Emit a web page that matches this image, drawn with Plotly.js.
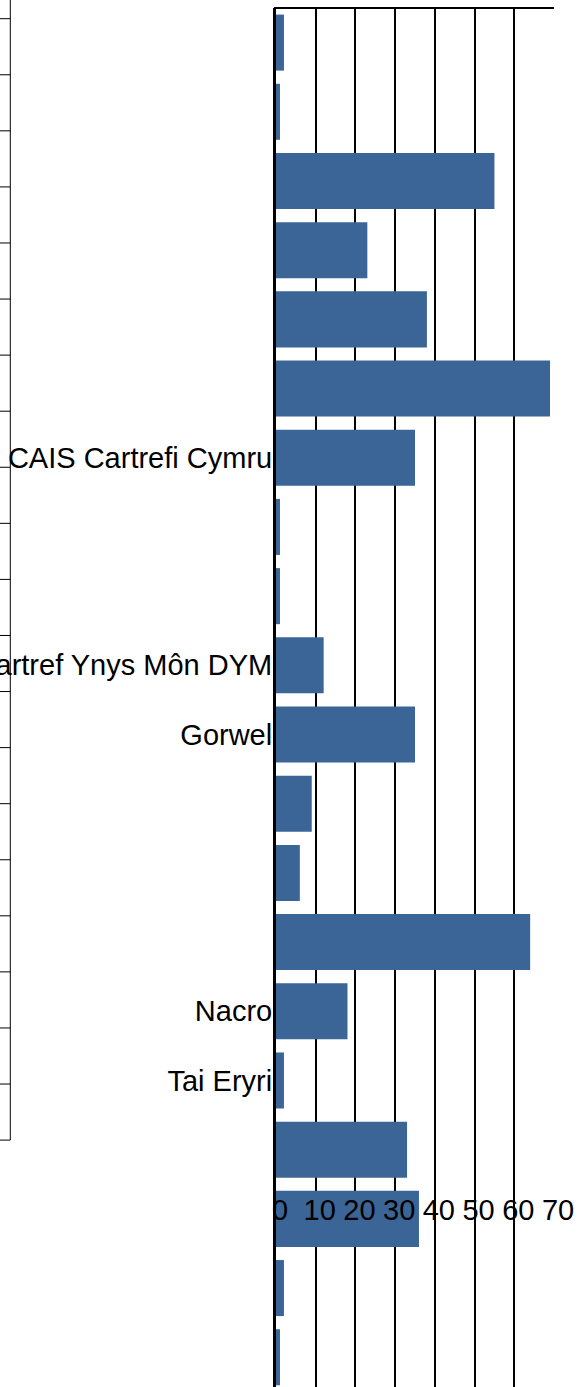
<!DOCTYPE html>
<html>
<head>
<meta charset="utf-8">
<script src="https://cdn.plot.ly/plotly-3.0.1.min.js"></script>
<style>html,body{margin:0;padding:0;background:#fff;overflow:hidden}#chart{width:583px;height:1387px}</style>
</head>
<body>
<div id="chart"></div>
<script>
// Row ids (one per organisation row), top to bottom
const rowIds = [1,2,3,4,5,6,7,8,9,10,11,12,13,14,15,16,17,18,19,20];
// Visible category labels (others not legible in the reference)
const rowLabels = ["","","","","","","CAIS Cartrefi Cymru","","","Digartref Ynys Môn DYM","Gorwel","","","","Nacro","Tai Eryri","","","",""];
// Bar values
const values = [2,1,55,23,38,69,35,1,1,12,35,9,6,64,18,2,33,36,2,1];
// Value axis ticks
const xTicks = [0,10,20,30,40,50,60,70];
const xTickText = ["0","10","20","30","40","50","60","70"];

const W = 583, H = 1387, mL = 276, mR = 29, mT = 8, mB = 0;
const pw = W - mL - mR, ph = H - mT - mB;
const px2x = p => (p - mL) / pw;
const px2y = p => (H - mB - p) / ph;

// decorative clipped table border on the left + top frame line
const shapes = [];
const tableTop = 18.7, rowH = 56.07;
shapes.push({type:'line', xref:'paper', yref:'paper', x0:px2x(10.3), x1:px2x(10.3), y0:px2y(-2), y1:px2y(tableTop + rowIds.length*rowH), line:{color:'#000', width:1}});
for (let k = 0; k <= rowIds.length; k++) {
  const yy = px2y(tableTop + k*rowH);
  shapes.push({type:'line', xref:'paper', yref:'paper', x0:px2x(-2), x1:px2x(10.3), y0:yy, y1:yy, line:{color:'#000', width:1}});
}
shapes.push({type:'line', xref:'paper', yref:'paper', x0:px2x(274), x1:1, y0:1, y1:1, line:{color:'#000', width:2}});

const font = "'Liberation Sans', Arial, sans-serif";
const trace = {
  type:'bar', orientation:'h',
  x: values, y: rowIds,
  marker:{color:'#3a6596', line:{width:0}},
  hoverinfo:'none'
};

const layout = {
  width: W, height: H,
  margin:{l:mL, r:mR, t:mT, b:mB, pad:0},
  paper_bgcolor:'#fff', plot_bgcolor:'#fff',
  showlegend:false,
  bargap:0.19,
  font:{family:font, color:'#000', size:29},
  xaxis:{
    anchor:'free', position:px2y(1190), side:'bottom',
    range:[0,70], tickvals:xTicks, ticktext:xTickText,
    showgrid:true, gridcolor:'#000', gridwidth:2,
    showline:false, zeroline:false, ticks:'',
    tickfont:{family:font, size:29, color:'#000'}, ticklabelshift:4, fixedrange:true
  },
  yaxis:{
    type:'linear', range:[20.43, 0.5], tickvals:rowIds, ticktext:rowLabels,
    showgrid:false, zeroline:false, showline:true, linecolor:'#000', linewidth:3,
    ticks:'', ticklabelstandoff:-5,
    tickfont:{family:font, size:29, color:'#000'}, fixedrange:true
  },
  shapes: shapes
};

Plotly.newPlot('chart', [trace], layout, {displayModeBar:false, staticPlot:true});
</script>
</body>
</html>
